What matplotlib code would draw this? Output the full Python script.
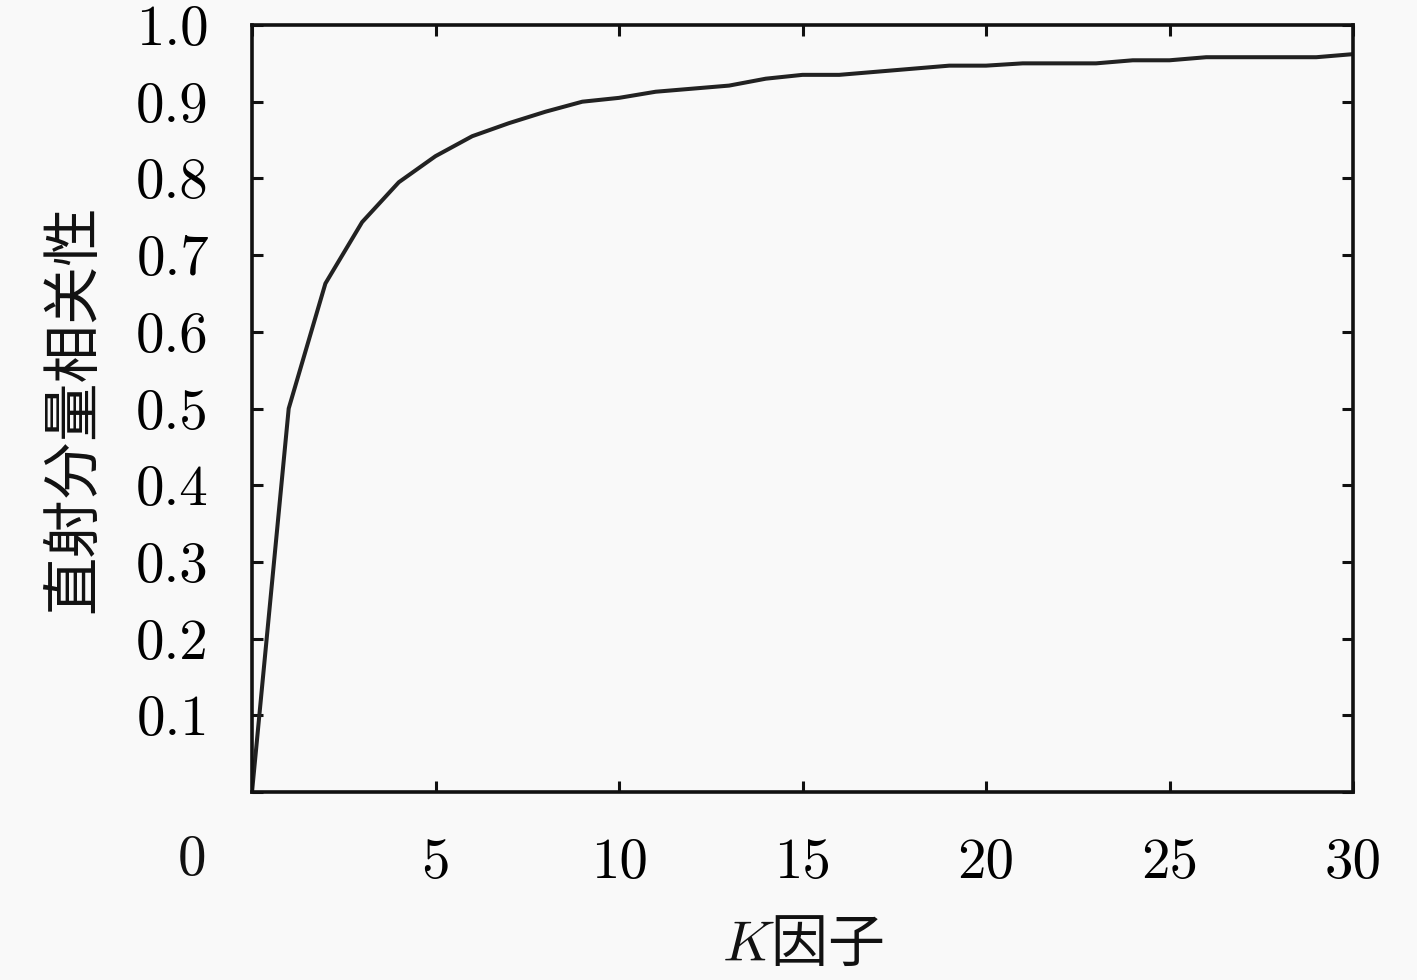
import matplotlib
matplotlib.use("Agg")
import matplotlib.pyplot as plt

# Data
k_factor = list(range(0, 31))
correlation = [0.0, 0.50, 0.663, 0.743, 0.795, 0.829, 0.855, 0.872, 0.887, 0.900,
               0.905, 0.913, 0.917, 0.921, 0.930, 0.935, 0.935, 0.939, 0.943, 0.947,
               0.947, 0.950, 0.950, 0.950, 0.954, 0.954, 0.958, 0.958, 0.958, 0.958,
               0.962]
x_ticks = [0, 5, 10, 15, 20, 25, 30]
x_tick_labels = ["", "5", "10", "15", "20", "25", "30"]
y_ticks = [0.0, 0.1, 0.2, 0.3, 0.4, 0.5, 0.6, 0.7, 0.8, 0.9, 1.0]
y_tick_labels = ["", "0.1", "0.2", "0.3", "0.4", "0.5", "0.6", "0.7", "0.8", "0.9", "1.0"]
x_label = "$K$因子"
y_label = "直射分量相关性"
origin_label = "0"

plt.rcParams['mathtext.fontset'] = 'cm'
plt.rcParams['font.family'] = ['Noto Sans CJK SC', 'DejaVu Sans']

bg = '#f9f9f9'
fig = plt.figure(figsize=(14.17, 9.8), dpi=100, facecolor=bg)
ax = fig.add_axes([252/1417, 1 - 792/980, (1353-252)/1417, (792-25)/980])
ax.set_facecolor(bg)

ax.plot(k_factor, correlation, color='#222222', lw=2.9, solid_joinstyle='round')

ax.set_xlim(0, 30)
ax.set_ylim(0, 1.0)
ax.set_xticks(x_ticks)
ax.set_xticklabels(x_tick_labels, fontfamily='cmr10', fontsize=41)
ax.set_yticks(y_ticks)
ax.set_yticklabels(y_tick_labels, fontfamily='cmr10', fontsize=41)

ax.tick_params(axis='both', direction='in', length=8, width=2.2, color='#111111',
               top=True, right=True)
ax.tick_params(axis='x', pad=33)
ax.tick_params(axis='y', pad=31)
for s in ax.spines.values():
    s.set_linewidth(2.6)
    s.set_color('#111111')

ax.annotate(origin_label, xy=(0, 0), xycoords='data', xytext=(-43, -49),
            textcoords='offset points', ha='center', va='center',
            fontfamily='cmr10', fontsize=41, color='#111111')

ax.set_xlabel(x_label, fontsize=41, labelpad=19, color='#111111')
ax.set_ylabel(y_label, fontsize=42, labelpad=23, color='#111111')

fig.savefig("out.png", dpi=100, facecolor=bg)
